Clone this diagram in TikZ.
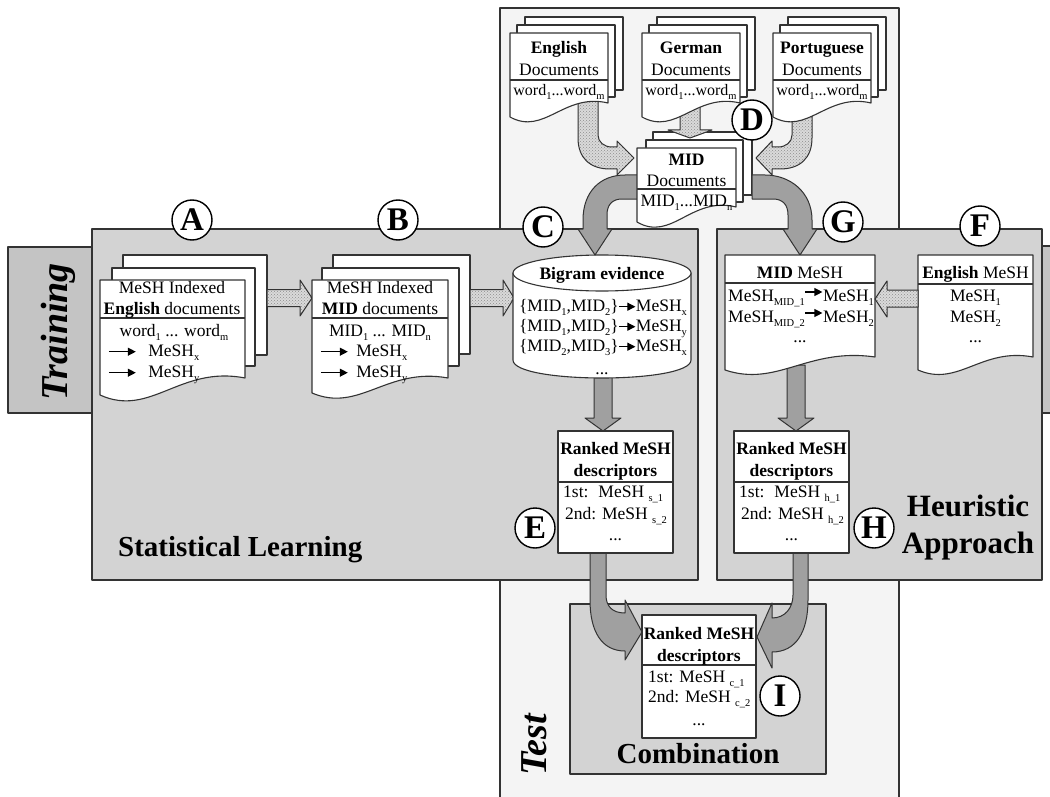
\documentclass[tikz,border=0pt]{standalone}
\usepackage{fontspec}
\setmainfont{Liberation Serif}
\usetikzlibrary{patterns,arrows.meta}
\definecolor{testbg}{HTML}{F4F4F4}
\definecolor{panel}{HTML}{D3D3D3}
\definecolor{tabc}{HTML}{C4C4C4}
\definecolor{darkarrow}{HTML}{A0A0A0}
\definecolor{dotbg}{HTML}{DADADA}
\definecolor{dotfg}{HTML}{8C8C8C}
\definecolor{lc}{HTML}{333333}
\newcommand\dsz{\fontsize{17.5}{20}\selectfont}
\newcommand\rarr[2][4.3]{\tikz[baseline=0pt,x=1pt,y=1pt]{\draw[line width=1.2pt,-{Triangle[length=8pt,width=8pt]}] (0,#1) -- (#2,#1);}}
\newcommand\sbs[1]{\raisebox{-0.25em}{\fontsize{10.5}{10.5}\selectfont #1}}
\newcommand\docfront[5]{\draw[page] (#1,#2) -- (#3,#2) -- (#3,#5) .. controls ({#1+0.55*(#3-#1)},{#5-0.75*(#4-#5)}) and ({#1+0.35*(#3-#1)},{#4+1.35*(#4-#5)}) .. (#1,#4) -- cycle;}
\begin{document}
\begin{tikzpicture}[x=1pt,y=-1pt,line join=round,
  bord/.style={draw=lc,line width=1.2pt},
  page/.style={draw=lc,line width=1.1pt,fill=white},
  darr/.style={draw=lc,line width=1pt,fill=darkarrow},
  dotarr/.style={draw=lc,line width=1pt,preaction={fill=dotbg},pattern=crosshatch dots,pattern color=dotfg},
  txt/.style={inner sep=0pt,font=\dsz,anchor=base},
  sml/.style={inner sep=0pt,font=\fontsize{16}{18}\selectfont,anchor=base},
  circ/.style={circle,draw=black,line width=1.4pt,fill=white,minimum size=40pt,inner sep=0pt,font=\fontsize{33}{33}\selectfont\bfseries},
  big/.style={inner sep=0pt,font=\fontsize{29}{29}\selectfont\bfseries,anchor=base},
  vlabel/.style={rotate=90,anchor=base,inner sep=0pt,font=\fontsize{38}{38}\selectfont\bfseries\itshape}]
\useasboundingbox (0,0) rectangle (1050,797);
% panels
\draw[bord,fill=testbg] (500,8) rectangle (899,800);
\draw[bord,fill=tabc] (8,247) rectangle (100,413);
\draw[bord,fill=tabc] (1030,246) rectangle (1060,413);
\node[vlabel] (train) at (67,332) {Training};
\draw[bord,fill=panel] (92,229) rectangle (698,580);
\draw[bord,fill=panel] (717,229) rectangle (1042,580);
\draw[bord,fill=panel] (570,604) rectangle (826,774);
\node[vlabel] (testlbl) at (546,745) {Test};
\node[big,anchor=base west] (stat) at (118,556) {Statistical Learning};
\node[big,font=\fontsize{31}{31}\selectfont\bfseries] (heur1) at (968,516) {Heuristic};
\node[big,font=\fontsize{31}{31}\selectfont\bfseries] (heur2) at (968,553) {Approach};
\node[big] (comb) at (698,763) {Combination};
% A stack
\draw[page] (123,255) rectangle (267,355);
\draw[page] (112,268) rectangle (255,366);
\docfront{100}{280}{245}{395}{378}
\draw[page] (100,318) -- (245,318);
\node[txt] (a1) at (172,293) {MeSH Indexed};
\node[txt] (a2) at (172,314) {\textbf{English} documents};
\node[txt] (a3) at (174,336) {word\sbs{1} ... word\sbs{m}};
\node[txt,anchor=base west] (a4) at (108,356) {\rarr{27}\hspace{12pt}MeSH\sbs{x}};
\node[txt,anchor=base west] (a5) at (108,377) {\rarr{27}\hspace{12pt}MeSH\sbs{y}};
\path[dotarr] (267,289.5) -- (300,289.5) -- (300,280) -- (312,298) -- (300,316) -- (300,306.5) -- (267,306.5) -- cycle;
% B stack
\draw[page] (333,255) rectangle (470,354);
\draw[page] (322,268) rectangle (459,366);
\docfront{312}{280}{448}{393}{378}
\draw[page] (312,318) -- (448,318);
\node[txt] (b1) at (380,293) {MeSH Indexed};
\node[txt] (b2) at (380,314) {\textbf{MID} documents};
\node[txt] (b3) at (380,336) {MID\sbs{1} ... MID\sbs{n}};
\node[txt,anchor=base west] (b4) at (320,356) {\rarr{27}\hspace{8pt}MeSH\sbs{x}};
\node[txt,anchor=base west] (b5) at (320,377) {\rarr{27}\hspace{8pt}MeSH\sbs{y}};
\path[dotarr] (470,289.5) -- (503,289.5) -- (503,280) -- (514,298) -- (503,316) -- (503,306.5) -- (470,306.5) -- cycle;
% cylinder
\path[darr] (594,370) -- (594,418) -- (585,418) -- (603,431) -- (621,418) -- (612,418) -- (612,370) -- cycle;
\draw[page] (513,273) -- (513,360) .. controls (513,384) and (691,384) .. (691,360) -- (691,273) -- cycle;
\draw[page] (602,273) ellipse [x radius=89, y radius=18];
\coordinate (cyl) at (602,320);
\node[txt,font=\dsz\bfseries] (c1) at (602,279) {Bigram evidence};
\node[txt] (c2) at (603,311) {\{MID\sbs{1},MID\sbs{2}\}\rarr{16}MeSH\sbs{x}};
\node[txt] (c3) at (603,331) {\{MID\sbs{1},MID\sbs{2}\}\rarr{16}MeSH\sbs{y}};
\node[txt] (c4) at (603,351) {\{MID\sbs{2},MID\sbs{3}\}\rarr{16}MeSH\sbs{x}};
\node[txt] (c5) at (602,374) {...};
% MID back page
\draw[page] (653,132) rectangle (752,195);
% dotted curved arrows
\path[dotarr] (578,100) -- (578,138) .. controls (578,158) and (590,169) .. (610,169) -- (617,169) -- (617,175) -- (634,158) -- (617,141) -- (617,147) -- (612,147) .. controls (604,147) and (598,142) .. (598,135) -- (598,100) -- cycle;
\path[dotarr] (812,100) -- (812,138) .. controls (812,158) and (800,169) .. (780,169) -- (772,169) -- (772,175) -- (756,158) -- (772,141) -- (772,147) -- (778,147) .. controls (786,147) and (792,142) .. (792,135) -- (792,100) -- cycle;
\path[dotarr] (680,100) -- (680,130) -- (668,130) -- (690,138) -- (712,130) -- (700,130) -- (700,100) -- cycle;
% dark curved arrows
\path[darr] (640,175) -- (625,175) .. controls (600,175) and (583,192) .. (583,220) -- (583,229) -- (578,229) -- (595,255) -- (612,229) -- (607,229) -- (607,215) .. controls (607,205) and (612,199) .. (622,199) -- (640,199) -- cycle;
\path[darr] (752,175) -- (765,175) .. controls (790,175) and (812,192) .. (812,220) -- (812,229) -- (817,229) -- (800,255) -- (783,229) -- (788,229) -- (788,215) .. controls (788,205) and (783,199) .. (773,199) -- (752,199) -- cycle;
% top documents
\draw[page] (525,17) rectangle (623,90);
\draw[page] (517,25) rectangle (615,97);
\docfront{510}{33}{608}{117}{103}
\draw[page] (510,80) -- (608,80);
\node[txt,font=\dsz\bfseries] (en1) at (559,54) {English};
\node[txt] (en2) at (559,76) {Documents};
\node[sml] (en3) at (559,96) {word\sbs{1}...word\sbs{m}};
\draw[page] (657,17) rectangle (755,90);
\draw[page] (649,25) rectangle (747,97);
\docfront{642}{33}{740}{117}{103}
\draw[page] (642,80) -- (740,80);
\node[txt,font=\dsz\bfseries] (de1) at (691,54) {German};
\node[txt] (de2) at (691,76) {Documents};
\node[sml] (de3) at (691,96) {word\sbs{1}...word\sbs{m}};
\draw[page] (788,17) rectangle (886,90);
\draw[page] (780,25) rectangle (878,97);
\docfront{773}{33}{871}{117}{103}
\draw[page] (773,80) -- (871,80);
\node[txt,font=\dsz\bfseries] (pt1) at (822,54) {Portuguese};
\node[txt] (pt2) at (822,76) {Documents};
\node[sml] (pt3) at (822,96) {word\sbs{1}...word\sbs{m}};
% MID docs
\draw[page] (646,140) rectangle (743,202);
\docfront{637}{148}{736}{222}{207}
\draw[page] (637,189) -- (736,189);
\node[txt,font=\dsz\bfseries] (m1) at (686.5,165) {MID};
\node[txt] (m2) at (686.5,186) {Documents};
\node[txt] (m3) at (686.5,206) {MID\sbs{1}...MID\sbs{n}};
% G and F
\path[darr] (787,365) -- (787,418) -- (778,418) -- (796,431) -- (814,418) -- (805,418) -- (805,365) -- cycle;
\docfront{725}{255}{875}{370}{357}
\draw[page] (725,283) -- (875,283);
\node[txt] (g1) at (800,278) {\textbf{MID} MeSH};
\node[txt,anchor=base west] (g2) at (728,301) {MeSH\sbs{MID\_1}\rarr[9]{17}MeSH\sbs{1}};
\node[txt,anchor=base west] (g3) at (728,322) {MeSH\sbs{MID\_2}\rarr[9]{17}MeSH\sbs{2}};
\node[txt] (g4) at (800,342) {...};
\docfront{918}{255}{1033}{370}{357}
\draw[page] (918,284) -- (1033,284);
\node[txt] (f1) at (975.5,278) {\textbf{English} MeSH};
\node[txt] (f2) at (975.5,301) {MeSH\sbs{1}};
\node[txt] (f3) at (975.5,322) {MeSH\sbs{2}};
\node[txt] (f4) at (975.5,342) {...};
\path[dotarr] (918,290) -- (887,290) -- (887,281) -- (875,299) -- (887,317) -- (887,307) -- (918,307) -- cycle;
% combination arrows
\path[darr] (590,545) -- (590,600) .. controls (590,632) and (602,651) .. (625,651) -- (625,660) -- (642,632) -- (625,600) -- (625,613) .. controls (612,613) and (606,606) .. (606,595) -- (606,545) -- cycle;
\path[darr] (808,545) -- (808,600) .. controls (808,632) and (796,652) .. (772,652) -- (772,668) -- (757,637) -- (772,603) -- (772,618) .. controls (785,618) and (793,608) .. (793,595) -- (793,545) -- cycle;
% ranked boxes
\draw[page] (558,431) rectangle (673,553);
\draw[page] (558,482) -- (673,482);
\node[txt,font=\dsz\bfseries] (e1) at (615.5,454) {Ranked MeSH};
\node[txt,font=\dsz\bfseries] (e2) at (615.5,476) {descriptors};
\node[txt,anchor=base west] (e3) at (563,497) {1st:\hspace{10pt}MeSH \sbs{s\_1}};
\node[txt,anchor=base west] (e4) at (565,519) {2nd: MeSH \sbs{s\_2}};
\node[txt] (e5) at (615.5,540) {...};
\draw[page] (734,431) rectangle (849,553);
\draw[page] (734,482) -- (849,482);
\node[txt,font=\dsz\bfseries] (h1) at (791.5,454) {Ranked MeSH};
\node[txt,font=\dsz\bfseries] (h2) at (791.5,476) {descriptors};
\node[txt,anchor=base west] (h3) at (739,497) {1st:\hspace{10pt}MeSH \sbs{h\_1}};
\node[txt,anchor=base west] (h4) at (741,519) {2nd: MeSH \sbs{h\_2}};
\node[txt] (h5) at (791.5,540) {...};
\draw[page] (642,615) rectangle (756,738);
\draw[page] (642,665) -- (756,665);
\node[txt,font=\dsz\bfseries] (i1) at (699,639) {Ranked MeSH};
\node[txt,font=\dsz\bfseries] (i2) at (699,661) {descriptors};
\node[txt,anchor=base west] (i3) at (648,682) {1st:\hspace{6pt}MeSH \sbs{c\_1}};
\node[txt,anchor=base west] (i4) at (648,702) {2nd: MeSH \sbs{c\_2}};
\node[txt] (i5) at (699,725) {...};
% circles
\node[circ] (A) at (192,220) {A};
\node[circ] (B) at (398,220) {B};
\node[circ] (C) at (543,227) {C};
\node[circ] (D) at (752,120) {D};
\node[circ] (E) at (535,528) {E};
\node[circ] (F) at (980,226) {F};
\node[circ] (G) at (843,222) {G};
\node[circ] (H) at (874,528) {H};
\node[circ] (I) at (780,696) {I};
\end{tikzpicture}
\end{document}
